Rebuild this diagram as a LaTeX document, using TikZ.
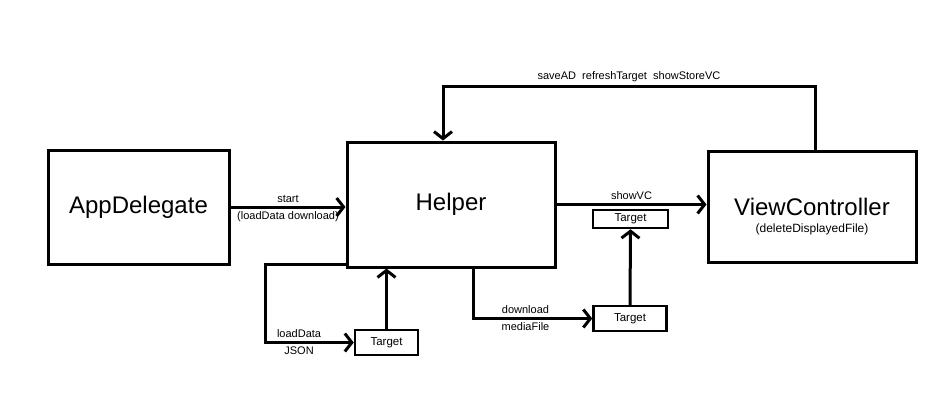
\documentclass[tikz,border=0pt]{standalone}
\usepackage{fontspec}
\setmainfont{Liberation Sans}
\usetikzlibrary{arrows.meta, positioning}

\begin{document}
\begin{tikzpicture}[x=1pt, y=-1pt,
          block/.style={rectangle, draw, line width=3pt, inner sep=0pt,
                        font=\fontsize{24}{28}\selectfont},
          tgt/.style={rectangle, draw, line width=2.5pt, inner sep=0pt,
                      font=\fontsize{11.5}{13}\selectfont},
          lbl/.style={font=\fontsize{11}{13}\selectfont, inner sep=3pt},
          arr/.style={-{Straight Barb[length=7pt, width=18pt]}, line width=3pt}
        ]
        \useasboundingbox (0,0) rectangle (942,400);

        \node[block, minimum width=181, minimum height=114] (ad) at (138.5,207) {AppDelegate};
        \node[block, minimum width=208, minimum height=125] (hp) at (451,204.5) {Helper};
        \node[block, minimum width=208, minimum height=111] (vc) at (812,206.5) {ViewController};
        \node[lbl, font=\fontsize{12}{14}\selectfont] (vcsub) at (812,229) {(deleteDisplayedFile)};

        \node[tgt, minimum width=75, minimum height=18] (ut) at (630.5,219) {Target};
        \node[tgt, minimum width=73, minimum height=25] (rt) at (630,318.5) {Target};
        \node[tgt, minimum width=63, minimum height=25] (lt) at (386.5,342.5) {Target};

        % calls into Helper
        \draw[arr] (ad.east) -- node[lbl, above]{start}
              node[lbl, below]{(loadData download)} (ad.east -| hp.west);
        \draw[arr] (hp.east) -- node[lbl, above]{showVC} (hp.east -| vc.west);

        % callbacks from ViewController
        \draw[arr] ([xshift=3pt]vc.north) -- ++(0,-63) -|
              node[lbl, above, pos=0.25]{saveAD\ \ refreshTarget\ \ showStoreVC}
              ([xshift=-8pt]hp.north);

        % loading
        \draw[arr] ([yshift=4pt]hp.south west) -- ++(-80,0) |-
              node[lbl, above, pos=0.69]{loadData}
              node[lbl, below, pos=0.69]{JSON} (lt.west);
        \draw[arr] (lt.north) -- (lt.north |- hp.south);

        % download
        \draw[arr] ([xshift=22pt]hp.south) |-
              node[lbl, above, pos=0.72]{download}
              node[lbl, below, pos=0.72]{mediaFile} (rt.west);
        \draw[arr] (rt.north) -- (ut.south);
      \end{tikzpicture}
\end{document}
